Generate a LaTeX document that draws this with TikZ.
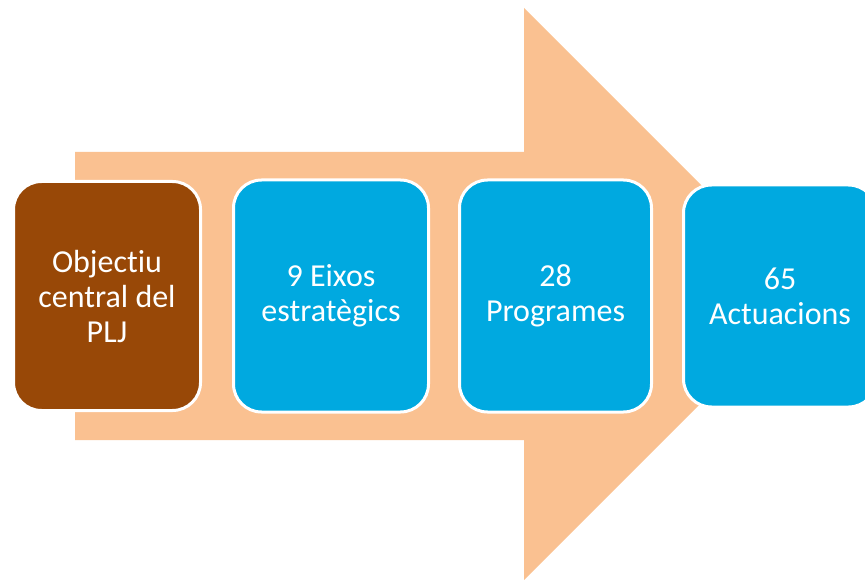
\documentclass[tikz,border=0pt]{standalone}
\usepackage{fontspec}
\setmainfont{Carlito}[Ligatures=NoCommon]
\usetikzlibrary{positioning}
\definecolor{peach}{HTML}{FAC191}
\definecolor{plj}{HTML}{984807}
\definecolor{eix}{HTML}{00A9E0}
\tikzset{
	stage/.style={draw=white, line width=3pt, rounded corners=28pt, text=white,
		align=center, minimum width=195pt, minimum height=232pt,
		font=\fontsize{32}{35}\selectfont, fill=eix},
}

\begin{document}
\begin{tikzpicture}[x=1pt, y=-1pt, node distance=30pt]
	\useasboundingbox (0,0) rectangle (865,580);
	\clip (0,0) rectangle (865,580);

	% big arrow behind
	\fill[peach] (75,152) -- (524,152) -- (524,8) -- (810,294) -- (524,580)
		-- (524,440) -- (75,440) -- cycle;

	\node[stage, fill=plj, minimum width=187pt, minimum height=229pt] (obj) at (107,296) {Objectiu\\central del\\PLJ};
	\node[stage, right=30pt of obj] (eixos) {9 Eixos\\estratègics};
	\node[stage, right=28pt of eixos, minimum width=192pt] (progr) {28\\Programes};
	\node[stage, right=29pt of progr, minimum width=193pt, minimum height=222pt] (actu) {65\\Actuacions};
\end{tikzpicture}
\end{document}
